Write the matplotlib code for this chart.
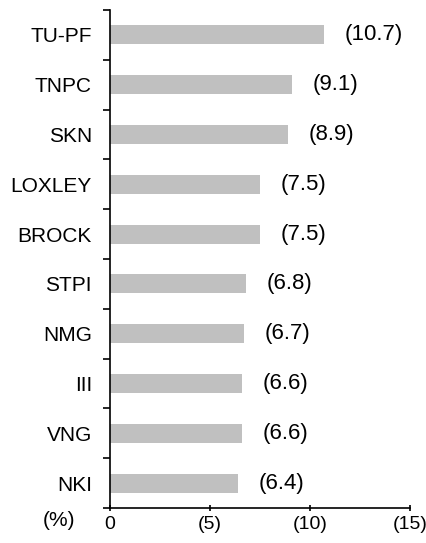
import matplotlib
matplotlib.use("Agg")
import matplotlib.pyplot as plt

plt.rcParams["font.family"] = ["Liberation Sans", "DejaVu Sans"]

companies = ["TU-PF", "TNPC", "SKN", "LOXLEY", "BROCK", "STPI", "NMG", "III", "VNG", "NKI"]
values = [10.7, 9.1, 8.9, 7.5, 7.5, 6.8, 6.7, 6.6, 6.6, 6.4]
xticks = [0, 5, 10, 15]
xtick_labels = ["0", "(5)", "(10)", "(15)"]

fig = plt.figure(figsize=(4.27, 5.43), dpi=100)
ax = fig.add_axes([0.2576, 0.0645, 0.7026, 0.917])

ys = list(range(len(companies)))
ax.barh(ys, values, height=0.38, color="#c0c0c0")
for y, v in zip(ys, values):
    ax.text(v + 1.05, y, f"({v:.1f})", va="center", ha="left", fontsize=16)

ax.set_ylim(len(companies) - 0.5, -0.5)
ax.set_xlim(0, 15)
ax.set_yticks(ys)
ax.set_yticklabels(companies, fontsize=15)
ax.tick_params(axis="y", length=0, pad=13)
ax.set_yticks([i - 0.5 for i in range(len(companies) + 1)], minor=True)
ax.tick_params(axis="y", which="minor", length=5, direction="out", width=1.2)
ax.set_xticks(xticks)
ax.set_xticklabels(xtick_labels, fontsize=14)
ax.tick_params(axis="x", length=5, direction="inout", width=1.2, pad=3)

for s in ("top", "right"):
    ax.spines[s].set_visible(False)
for s in ("left", "bottom"):
    ax.spines[s].set_linewidth(1.2)

fig.text(59 / 427, 1 - 520 / 543, "(%)", ha="center", va="center", fontsize=15)

fig.savefig("out.png", dpi=100)
